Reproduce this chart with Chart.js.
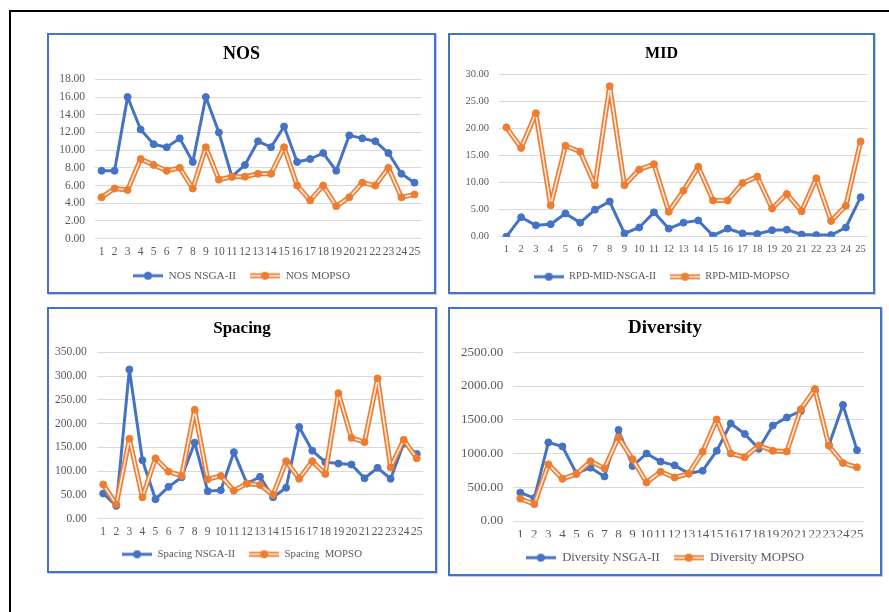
<!DOCTYPE html>
<html>
<head>
<meta charset="utf-8">
<title>NOS, MID, Spacing and Diversity: NSGA-II vs MOPSO</title>
<script src="https://cdn.jsdelivr.net/npm/chart.js@4.4.1/dist/chart.umd.min.js"></script>
<style>
  html, body { margin: 0; padding: 0; background: #fff; width: 889px; height: 612px; overflow: hidden; position: relative; }
  #frame { position: absolute; left: 9px; top: 10px; width: 1000px; height: 1000px;
           border-left: 2px solid #000; border-top: 2px solid #000; }
  .panel { position: absolute; box-sizing: border-box; border: 2px solid #4472C4; background: #fff;
           box-shadow: 1px 1px 0 rgba(68, 114, 196, 0.35); }
  .panel canvas { display: block; }
  #p-nos  { left: 47px;  top: 33px;  width: 389px; height: 261px; }
  #p-mid  { left: 448px; top: 33px;  width: 427px; height: 261px; }
  #p-sp   { left: 47px;  top: 307px; width: 390px; height: 266px; }
  #p-div  { left: 448px; top: 307px; width: 434px; height: 269px; }
</style>
</head>
<body>
<div id="frame"></div>
<div class="panel" id="p-nos"><canvas id="c-nos"></canvas></div>
<div class="panel" id="p-mid"><canvas id="c-mid"></canvas></div>
<div class="panel" id="p-sp"><canvas id="c-sp"></canvas></div>
<div class="panel" id="p-div"><canvas id="c-div"></canvas></div>

<script>
// Test problem instances 1..25
const runs = ['1', '2', '3', '4', '5', '6', '7', '8', '9', '10', '11', '12', '13',
              '14', '15', '16', '17', '18', '19', '20', '21', '22', '23', '24', '25'];

// Number of solutions (NOS)
const nosNsga  = [7.67, 7.67, 16.00, 12.33, 10.67, 10.33, 11.33, 8.67, 16.00, 12.00, 7.00, 8.33, 11.00,
                  10.33, 12.67, 8.67, 9.00, 9.67, 7.67, 11.67, 11.33, 11.00, 9.67, 7.33, 6.33];
const nosMopso = [4.67, 5.67, 5.50, 9.00, 8.33, 7.67, 8.00, 5.67, 10.33, 6.67, 7.00, 7.00, 7.33,
                  7.33, 10.33, 6.00, 4.33, 6.00, 3.67, 4.67, 6.33, 6.00, 8.00, 4.67, 5.00];

// Mean ideal distance, as RPD
const midNsga  = [0.0, 3.6, 2.1, 2.3, 4.3, 2.6, 5.0, 6.5, 0.6, 1.7, 4.5, 1.5, 2.6,
                  3.0, 0.2, 1.5, 0.6, 0.5, 1.2, 1.3, 0.4, 0.3, 0.3, 1.7, 7.3];
const midMopso = [20.2, 16.4, 22.8, 5.8, 16.8, 15.7, 9.5, 27.8, 9.5, 12.4, 13.4, 4.6, 8.5,
                  12.9, 6.7, 6.7, 9.9, 11.1, 5.2, 7.9, 4.7, 10.8, 2.9, 5.7, 17.6];

// Spacing metric
const spNsga   = [53, 27, 314, 123, 41, 67, 87, 160, 58, 60, 140, 74, 88,
                  45, 65, 193, 143, 119, 116, 114, 85, 107, 84, 158, 136];
const spMopso  = [72, 30, 168, 45, 127, 99, 90, 229, 83, 90, 59, 74, 71,
                  50, 121, 84, 121, 94, 264, 170, 161, 295, 108, 166, 127];

// Diversity metric
const divNsga  = [420, 340, 1165, 1105, 705, 790, 660, 1350, 815, 1000, 880, 825, 705,
                  745, 1040, 1445, 1290, 1070, 1415, 1535, 1630, 1930, 1125, 1720, 1050];
const divMopso = [330, 250, 840, 625, 695, 885, 780, 1240, 915, 570, 730, 645, 700,
                  1025, 1505, 1000, 945, 1120, 1040, 1030, 1655, 1955, 1115, 860, 795];

// Axis ranges
const nosAxis = { max: 18, step: 2 };
const midAxis = { max: 30, step: 5 };
const spAxis  = { max: 350, step: 50 };
const divAxis = { max: 2500, step: 500 };

const SERIF  = '"Liberation Serif", "Times New Roman", Times, serif';
const BLUE   = '#4472C4';
const ORANGE = '#ED7D31';
const CORE   = '#FCE6D8';
const GRID   = '#D9D9D9';
const TEXT   = '#595959';

// Small line+marker swatches used as legend symbols
function swatch(kind) {
  const c = document.createElement('canvas');
  c.width = 30; c.height = 10;
  const g = c.getContext('2d');
  if (kind === 'nsga') {
    g.strokeStyle = BLUE; g.lineWidth = 3;
    g.beginPath(); g.moveTo(0, 5); g.lineTo(30, 5); g.stroke();
    g.fillStyle = BLUE;
  } else {
    g.strokeStyle = ORANGE; g.lineWidth = 5;
    g.beginPath(); g.moveTo(0, 5); g.lineTo(30, 5); g.stroke();
    g.strokeStyle = CORE; g.lineWidth = 1.7;
    g.beginPath(); g.moveTo(0, 5); g.lineTo(30, 5); g.stroke();
    g.fillStyle = ORANGE;
  }
  g.beginPath(); g.arc(15, 5, 4, 0, Math.PI * 2); g.fill();
  return c;
}
const swNsga = swatch('nsga');
const swMopso = swatch('mopso');

// Panel geometry (canvas-local pixels) and type sizes
const panels = [
  { canvas: 'c-nos', w: 385, h: 257, title: 'NOS', names: ['NOS NSGA-II', 'NOS MOPSO'],
    a: nosNsga, b: nosMopso, axis: nosAxis,
    plotLeft: 46, rightPad: 13, plotTop: 44.3, plotBottom: 203.7,
    titleY: 19, legendY: 240.7, xLabelY: 217, titleSize: 18, tickSize: 11.5, legendSize: 11.3 },
  { canvas: 'c-mid', w: 423, h: 257, title: 'MID', names: ['RPD-MID-NSGA-II', 'RPD-MID-MOPSO'],
    a: midNsga, b: midMopso, axis: midAxis,
    plotLeft: 49, rightPad: 4, plotTop: 39.3, plotBottom: 201.7,
    titleY: 19, legendY: 241.7, xLabelY: 214, titleSize: 16, tickSize: 10.5, legendSize: 10.5 },
  { canvas: 'c-sp', w: 386, h: 262, title: 'Spacing', names: ['Spacing NSGA-II', 'Spacing  MOPSO'],
    a: spNsga, b: spMopso, axis: spAxis,
    plotLeft: 47.7, rightPad: 11.7, plotTop: 43.3, plotBottom: 209.7,
    titleY: 19.3, legendY: 245.3, xLabelY: 223, titleSize: 17, tickSize: 11.5, legendSize: 10.8 },
  { canvas: 'c-div', w: 430, h: 265, title: 'Diversity', names: ['Diversity NSGA-II', 'Diversity MOPSO'],
    a: divNsga, b: divMopso, axis: divAxis,
    plotLeft: 63.3, rightPad: 16, plotTop: 43.3, plotBottom: 212,
    titleY: 19.3, legendY: 249.3, xLabelY: 226, titleSize: 19, tickSize: 13, legendSize: 12.7 }
];

const LEGEND_GAP = 14;

function build(p) {
  const cv = document.getElementById(p.canvas);
  cv.width = p.w; cv.height = p.h;

  const titleLH = p.titleSize * 1.2;
  const t1 = p.titleY - titleLH / 2;
  const t2 = p.plotTop - t1 - titleLH;
  const padBottom = Math.max(0, p.h - p.legendY - 10 - p.legendSize / 2);
  const legendH = p.legendSize + LEGEND_GAP + 10;
  const xHeight = (p.h - padBottom - legendH) - p.plotBottom;
  const xPad = p.xLabelY - p.plotBottom - 0.6 * p.tickSize;

  const tickFont = { family: SERIF, size: p.tickSize };
  const lineStyle = { tension: 0, borderJoinStyle: 'round', borderCapStyle: 'round' };

  return new Chart(cv, {
    type: 'line',
    data: {
      labels: runs,
      datasets: [
        { label: p.names[0], data: p.a, order: 3, ...lineStyle,
          borderColor: BLUE, borderWidth: 3,
          pointRadius: 3.5, pointBackgroundColor: BLUE, pointBorderColor: BLUE, pointBorderWidth: 1 },
        { label: p.names[1], data: p.b, order: 2, ...lineStyle,
          borderColor: ORANGE, borderWidth: 5, pointRadius: 0 },
        { label: p.names[1] + ' core', data: p.b, order: 1, ...lineStyle,
          borderColor: CORE, borderWidth: 1.7,
          pointRadius: 3.5, pointBackgroundColor: ORANGE, pointBorderColor: ORANGE, pointBorderWidth: 1 }
      ]
    },
    options: {
      responsive: false,
      animation: false,
      events: [],
      layout: { padding: { left: 0, right: 0, top: 0, bottom: padBottom } },
      plugins: {
        tooltip: { enabled: false },
        title: {
          display: true, text: p.title, color: '#000',
          font: { family: SERIF, size: p.titleSize, weight: 'bold' },
          padding: { top: t1, bottom: t2 }
        },
        legend: {
          position: 'bottom',
          labels: {
            usePointStyle: true,
            pointStyleWidth: 30,
            padding: LEGEND_GAP,
            color: TEXT,
            font: { family: SERIF, size: p.legendSize },
            generateLabels: () => [
              { text: p.names[0], pointStyle: swNsga, fontColor: TEXT, hidden: false, datasetIndex: 0, lineWidth: 0 },
              { text: p.names[1], pointStyle: swMopso, fontColor: TEXT, hidden: false, datasetIndex: 1, lineWidth: 0 }
            ]
          }
        }
      },
      scales: {
        x: {
          offset: true,
          grid: { display: false, drawTicks: false },
          border: { display: false },
          ticks: { padding: xPad, color: TEXT, font: tickFont, autoSkip: false, maxRotation: 0, minRotation: 0 },
          afterFit: s => { s.height = xHeight; }
        },
        y: {
          min: 0, max: p.axis.max,
          grid: { color: GRID, lineWidth: 1, drawTicks: false },
          border: { display: false },
          ticks: { stepSize: p.axis.step, padding: 10, color: TEXT, font: tickFont,
                   callback: v => Number(v).toFixed(2) },
          afterFit: s => { s.width = p.plotLeft; }
        },
        yRight: {
          position: 'right',
          grid: { display: false, drawTicks: false },
          border: { display: false },
          ticks: { display: false },
          afterFit: s => { s.width = p.rightPad; }
        }
      }
    }
  });
}

panels.forEach(build);
</script>
</body>
</html>
